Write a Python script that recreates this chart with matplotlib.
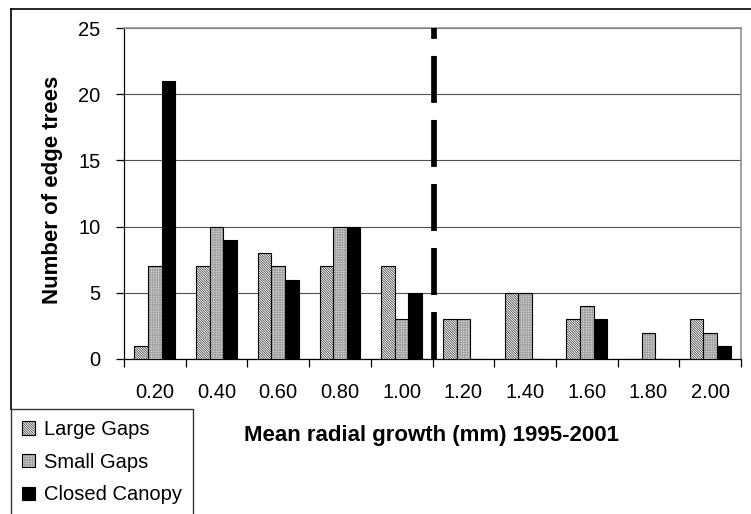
import matplotlib
matplotlib.use("Agg")
import matplotlib.pyplot as plt
import matplotlib.colors as mcolors
from matplotlib.lines import Line2D
import numpy as np

plt.rcParams['font.family'] = ['Liberation Sans', 'DejaVu Sans']
plt.rcParams['hatch.linewidth'] = 0.5
plt.rcParams['lines.scale_dashes'] = False

categories = ["0.20", "0.40", "0.60", "0.80", "1.00", "1.20", "1.40", "1.60", "1.80", "2.00"]
large_gaps = [1, 7, 8, 7, 7, 3, 5, 3, 0, 3]
small_gaps = [7, 10, 7, 10, 3, 3, 5, 4, 2, 2]
closed_canopy = [21, 9, 6, 10, 5, 0, 0, 3, 0, 1]
series_names = ["Large Gaps", "Small Gaps", "Closed Canopy"]
yticks = [0, 5, 10, 15, 20, 25]
threshold_pos = 4.52

W, H = 751, 514
fig = plt.figure(figsize=(W / 100, H / 100), dpi=100)

def fx(px):
    return px / W

def fy(py):
    return 1 - py / H

left, right, top, bottom = 124, 741, 28, 359
ax = fig.add_axes([fx(left), fy(bottom), fx(right) - fx(left), fy(top) - fy(bottom)])

x = np.arange(len(categories))
bw = 0.22

b1 = ax.bar(x - bw, large_gaps, bw, facecolor='white', edgecolor='black', linewidth=0.8,
            hatch='\\' * 14, zorder=3)
for p in b1:
    p._hatch_color = mcolors.to_rgba('#303030')
b2 = ax.bar(x, small_gaps, bw, facecolor='#e6e6e6', edgecolor='black', linewidth=0.8,
            hatch='+' * 10, zorder=3)
for p in b2:
    p._hatch_color = mcolors.to_rgba('#a0a0a0')
b3 = ax.bar(x + bw, closed_canopy, bw, facecolor='black', edgecolor='black', linewidth=0.8,
            zorder=3)

# dashed threshold line
ax.plot([threshold_pos, threshold_pos], [0, 25], color='black', linewidth=4.1,
        dashes=(33.8, 12.3), solid_capstyle='butt', dash_capstyle='butt', zorder=4,
        clip_on=False)

ax.set_xlim(-0.5, len(categories) - 0.5)
ax.set_ylim(0, 25)
ax.set_yticks(yticks)
ax.set_yticklabels([str(v) for v in yticks])
ax.set_xticks(x)
ax.set_xticklabels(categories)
ax.set_xticks(np.arange(len(categories) + 1) - 0.5, minor=True)
ax.tick_params(axis='x', which='major', length=0, pad=17, labelsize=14.5)
ax.tick_params(axis='x', which='minor', length=6, width=0.9, direction='out', color='black')
ax.tick_params(axis='y', which='major', length=6, width=0.9, direction='out', pad=11,
               labelsize=14.5)

ax.yaxis.grid(True, color='#505050', linewidth=0.8, zorder=0)
ax.set_axisbelow(True)
for s in ['left', 'bottom']:
    ax.spines[s].set_color('black')
    ax.spines[s].set_linewidth(0.9)
for s in ['top', 'right']:
    ax.spines[s].set_color('#909090')
    ax.spines[s].set_linewidth(1.2)

fig.text(fx(53), fy(190), "Number of edge trees", rotation=90, ha='center', va='center',
         fontsize=16, fontweight='bold')
fig.text(fx(431), fy(435), "Mean radial growth (mm) 1995-2001", ha='center', va='center',
         fontsize=16, fontweight='bold')

# outer chart frame
fig.add_artist(Line2D([fx(11), 1.0], [fy(9), fy(9)], color='black', linewidth=1.2))
fig.add_artist(Line2D([fx(11), fx(11)], [fy(9), fy(409)], color='black', linewidth=1.2))

leg = fig.legend([b1, b2, b3], series_names, loc='upper left',
                 bbox_to_anchor=(fx(11), fy(409)), bbox_transform=fig.transFigure,
                 fontsize=14.5, frameon=True, fancybox=False, borderaxespad=0,
                 handlelength=0.65, handleheight=0.65, handletextpad=0.45,
                 labelspacing=0.68, borderpad=0.55)
leg.get_frame().set_edgecolor('black')
leg.get_frame().set_linewidth(1.0)

fig.savefig("out.png", dpi=100)
